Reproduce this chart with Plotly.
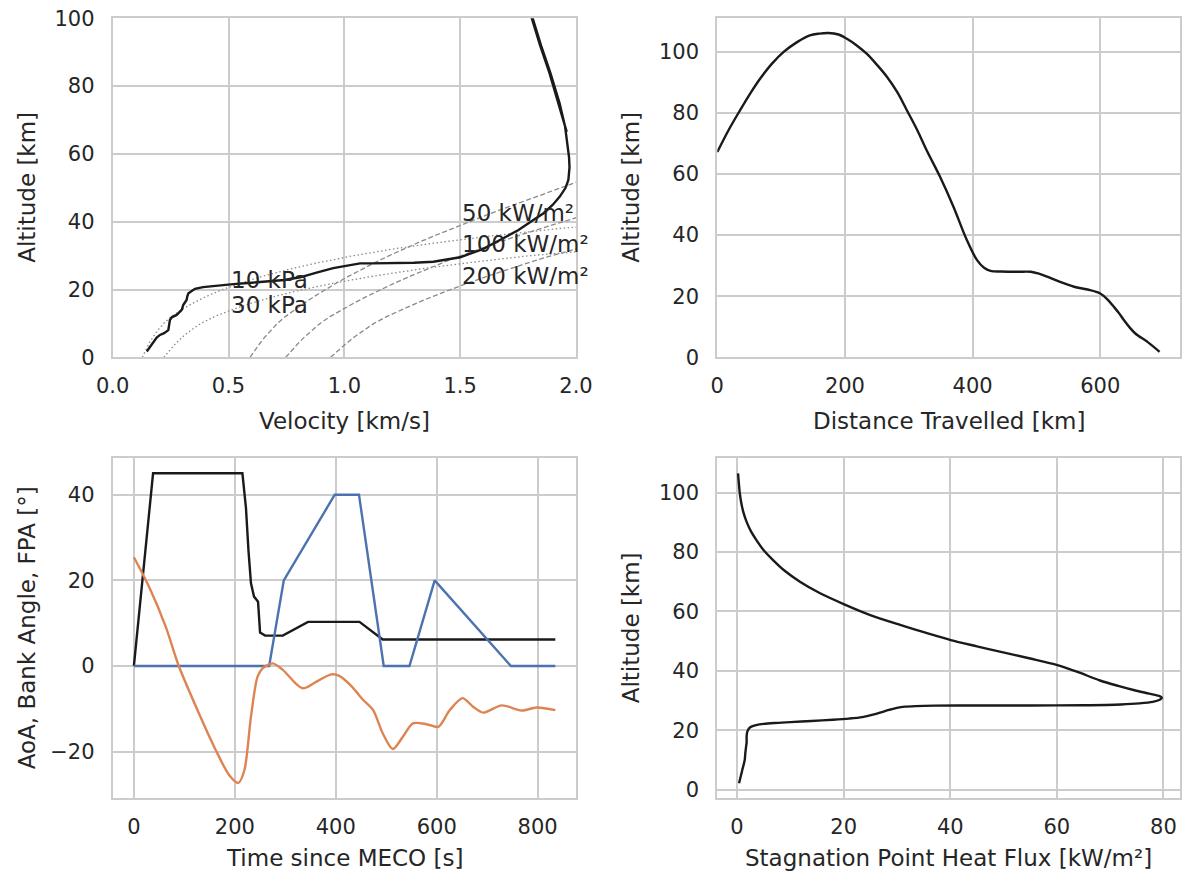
import plotly.graph_objects as go

# ---------------- data ----------------
# Top-left: trajectory velocity [km/s] vs altitude [km]
traj_vel = [1.960, 1.925, 1.885, 1.845, 1.810, 1.780,
            1.785, 1.813, 1.849, 1.889, 1.929, 1.953, 1.963, 1.970, 1.972, 1.967, 1.955,
            1.93, 1.90, 1.86, 1.816, 1.75, 1.672, 1.60, 1.50, 1.44, 1.384, 1.30, 1.20,
            1.12, 1.068, 1.00, 0.952, 0.88, 0.809, 0.74, 0.665, 0.60, 0.521, 0.45, 0.39,
            0.355, 0.327, 0.322, 0.319, 0.305, 0.298, 0.276, 0.255, 0.247, 0.243, 0.24,
            0.222, 0.204, 0.19, 0.183, 0.165, 0.147]
traj_alt = [66.5, 75, 84, 92, 100, 106.5,
            106.5, 100, 92, 84, 75, 68, 63, 59, 56, 52.3, 50,
            47.4, 45, 42.5, 40.5, 37.5, 34.6, 32, 29.5, 28.8, 28.2, 27.9, 27.7,
            27.7, 27.7, 27.0, 26.3, 25, 23.6, 22.8, 22.3, 22.0, 21.6, 21.2, 20.7,
            20.2, 18.9, 18.0, 16.9, 15.5, 14.0, 12.5, 11.8, 11.0, 9.5, 8.0,
            7.1, 6.6, 5.8, 5.1, 3.4, 1.7]

# Dynamic-pressure contours (altitude grid, velocity)
q_alt = [0, 2, 4, 6, 8, 10, 12, 14, 16, 18, 20, 22, 24, 26, 28, 30, 32, 34, 36, 38, 40, 42]
q10_vel = [0.128, 0.141, 0.156, 0.174, 0.195, 0.220, 0.253, 0.296, 0.347, 0.406, 0.474,
           0.557, 0.653, 0.764, 0.893, 1.042, 1.215, 1.422, 1.660, 1.930, 2.236, 2.58]
q30_vel = [0.221, 0.244, 0.271, 0.301, 0.338, 0.381, 0.439, 0.513, 0.600, 0.702, 0.821,
           0.964, 1.131, 1.323, 1.547, 1.805, 2.104, 2.46, 2.87, 3.34, 3.87, 4.47]

# Heat-flux contours (altitude grid, velocity)
h_alt = [0, 2, 4, 6, 8, 10, 12, 14, 16, 18, 20, 22, 24, 26, 28, 30, 32, 34, 36, 38, 40,
         42, 44, 46, 48, 50, 52, 54]
hf50_vel = [0.593, 0.613, 0.634, 0.657, 0.683, 0.711, 0.745, 0.785, 0.827, 0.871, 0.918,
            0.968, 1.021, 1.076, 1.134, 1.194, 1.256, 1.324, 1.394, 1.466, 1.540,
            1.615, 1.693, 1.773, 1.852, 1.931, 2.012, 2.096]
hf100_vel = [0.747, 0.772, 0.799, 0.828, 0.860, 0.895, 0.938, 0.989, 1.042, 1.098, 1.157,
             1.220, 1.287, 1.356, 1.428, 1.504, 1.583, 1.668, 1.756, 1.847, 1.940,
             2.035, 2.133, 2.234, 2.334, 2.433, 2.535, 2.641]
hf200_vel = [0.941, 0.973, 1.007, 1.043, 1.084, 1.128, 1.182, 1.246, 1.313, 1.383, 1.457,
             1.537, 1.621, 1.708, 1.800, 1.895, 1.994, 2.102, 2.213, 2.327, 2.444,
             2.564, 2.688, 2.814, 2.941, 3.065, 3.193, 3.328]

# Top-right: distance travelled [km] vs altitude [km]
dist_km = [0, 18, 36, 52, 67, 85, 104, 125, 145, 160, 174, 190, 203, 218, 234, 250, 266,
           282, 297, 313, 328, 349, 370, 391, 407, 418, 428, 445, 470, 491, 505, 517, 538,
           559, 580, 600, 612, 621, 630, 637, 646, 655, 675, 693]
dist_alt = [67.2, 74.5, 81, 86.5, 91.2, 96, 100, 103.2, 105.4, 106.0, 106.2, 105.7, 104.3,
            102.2, 99.4, 95.8, 91.8, 86.8, 80.9, 74.5, 67.8, 59.1, 49.3, 38.4, 31.8, 29.3,
            28.3, 28.1, 28.0, 28.0, 27.3, 26.4, 24.6, 23.1, 22.2, 20.9, 18.8, 16.6, 14.3,
            12.2, 9.8, 7.8, 4.9, 1.8]

# Bottom-left: angles vs time since MECO [s]
bank_t = [0, 38, 215, 222, 227, 232, 238, 246, 250, 260, 295, 345, 447, 493, 835]
bank_deg = [0, 45, 45, 37, 27, 19.3, 16.2, 15, 7.8, 7.1, 7.1, 10.3, 10.3, 6.2, 6.2]
aoa_t = [0, 268, 297, 398, 446, 495, 546, 596, 747, 835]
aoa_deg = [0, 0, 20, 40, 40, 0, 0, 20, 0, 0]
fpa_t = [0, 30, 63, 89, 129, 162, 189, 207, 219, 232, 245, 255, 275, 295, 334, 361, 391,
         407, 432, 454, 474, 493, 513, 533, 553, 580, 603, 626, 651, 672, 692, 729, 768,
         798, 835]
fpa_deg = [25.4, 18.5, 9.2, 0, -11.1, -19.6, -25.5, -27.3, -24.3, -11.8, -2.5, -0.55, 0.6,
           -0.9, -5.2, -3.7, -1.95, -2.3, -4.8, -7.9, -10.3, -15.7, -19.4, -16.5, -13.4,
           -13.6, -14.2, -10.3, -7.5, -9.5, -10.9, -9.2, -10.4, -9.7, -10.3]

# Bottom-right: stagnation point heat flux [kW/m²] vs altitude [km]
flux_q = [0.19, 0.35, 0.5, 0.8, 1.2, 1.76, 2.6, 3.64, 5.0, 6.76, 9.0, 11.8, 15.5, 20.0,
          25.0, 30.6, 35.5, 40.1, 45.0, 49.3, 55.0, 60.1, 64.0, 68.1, 71.5, 74.4, 77.3,
          79.2, 79.7, 79.3, 78.0, 75.5, 72.0, 65.0, 55.0, 45.0, 37.0, 33.5, 31.5, 30.0,
          28.5, 27.0, 25.5, 23.5, 21.0, 18.0, 14.0, 10.0, 7.0, 5.0, 3.6, 2.7, 2.2, 1.9,
          1.8, 1.8, 1.7, 1.55, 1.45, 1.2, 1.0, 0.7, 0.38]
flux_alt = [106.4, 103.0, 100.0, 96.5, 93.3, 90.3, 87.0, 84.0, 80.6, 77.3, 73.6, 70.0,
            66.2, 62.5, 58.8, 55.5, 52.8, 50.4, 48.3, 46.5, 44.2, 42.0, 39.6, 36.8, 35.0,
            33.6, 32.4, 31.6, 31.0, 30.3, 29.6, 29.1, 28.75, 28.5, 28.4, 28.4, 28.35,
            28.2, 28.0, 27.6, 26.9, 26.1, 25.3, 24.5, 24.0, 23.6, 23.2, 22.8, 22.5, 22.2,
            21.8, 21.3, 20.6, 19.4, 17.9, 16.0, 14.6, 12.3, 10.1, 8.2, 6.8, 4.6, 2.25]

# contour labels: (text, velocity, altitude)
contour_labels = [("10 kPa", 0.5, 22.8), ("30 kPa", 0.5, 15.4),
                  ("50 kW/m²", 1.5, 42.5), ("100 kW/m²", 1.5, 33.4),
                  ("200 kW/m²", 1.5, 24.1)]

# ---------------- figure ----------------
W, H = 1182, 874
TXT = "#262626"
GRID = "#cccccc"
FONT = "DejaVu Sans"
BLACK = "#1a1a1a"
GRAY = "#8a8a8a"

fig = go.Figure()

# top-left
fig.add_trace(go.Scatter(x=q10_vel, y=q_alt, mode="lines", xaxis="x", yaxis="y",
                         line=dict(color=GRAY, width=1.3, dash="1.5px,2.5px"),
                         showlegend=False))
fig.add_trace(go.Scatter(x=q30_vel, y=q_alt, mode="lines", xaxis="x", yaxis="y",
                         line=dict(color=GRAY, width=1.3, dash="1.5px,2.5px"),
                         showlegend=False))
for hv in (hf50_vel, hf100_vel, hf200_vel):
    fig.add_trace(go.Scatter(x=hv, y=h_alt, mode="lines", xaxis="x", yaxis="y",
                             line=dict(color=GRAY, width=1.3, dash="5px,2.5px"),
                             showlegend=False))
fig.add_trace(go.Scatter(x=traj_vel, y=traj_alt, mode="lines", xaxis="x", yaxis="y",
                         line=dict(color=BLACK, width=2.4), showlegend=False))

# top-right
fig.add_trace(go.Scatter(x=dist_km, y=dist_alt, mode="lines", xaxis="x2", yaxis="y2",
                         line=dict(color=BLACK, width=2.4, shape="spline", smoothing=1.0),
                         showlegend=False))

# bottom-left
fig.add_trace(go.Scatter(x=bank_t, y=bank_deg, mode="lines", xaxis="x3", yaxis="y3",
                         line=dict(color=BLACK, width=2.4), showlegend=False))
fig.add_trace(go.Scatter(x=aoa_t, y=aoa_deg, mode="lines", xaxis="x3", yaxis="y3",
                         line=dict(color="#4C72B0", width=2.4), showlegend=False))
fig.add_trace(go.Scatter(x=fpa_t, y=fpa_deg, mode="lines", xaxis="x3", yaxis="y3",
                         line=dict(color="#DD8452", width=2.4, shape="spline", smoothing=0.8),
                         showlegend=False))

# bottom-right
fig.add_trace(go.Scatter(x=flux_q, y=flux_alt, mode="lines", xaxis="x4", yaxis="y4",
                         line=dict(color=BLACK, width=2.4, shape="spline", smoothing=0.8),
                         showlegend=False))

def ax(domain, rng, anchor, **kw):
    d = dict(domain=domain, range=rng, anchor=anchor, showgrid=True, gridcolor=GRID,
             gridwidth=1.6, showline=True, linecolor=GRID, linewidth=2, mirror=True,
             ticks="", zeroline=False, automargin=False,
             tickfont=dict(family=FONT, size=21, color=TXT))
    d.update(kw)
    return d

xL = [112.7 / W, 576 / W]
xR = [717.3 / W, 1180 / W]
yT = [1 - 357.3 / H, 1 - 18.3 / H]
yB = [1 - 798.3 / H, 1 - 458.3 / H]

fig.update_layout(
    width=W, height=H, margin=dict(l=0, r=0, t=0, b=0),
    paper_bgcolor="white", plot_bgcolor="white",
    font=dict(family=FONT, color=TXT),
    xaxis=ax(xL, [0, 2.0], "y", tickvals=[0, 0.5, 1.0, 1.5, 2.0], tickformat=".1f",
             ticklabelstandoff=8),
    yaxis=ax(yT, [0, 100], "x", tickvals=[0, 20, 40, 60, 80, 100], ticklabelstandoff=12),
    xaxis2=ax(xR, [0, 725], "y2", tickvals=[0, 200, 400, 600], ticklabelstandoff=8),
    yaxis2=ax(yT, [0, 111], "x2", tickvals=[0, 20, 40, 60, 80, 100], ticklabelstandoff=12),
    xaxis3=ax(xL, [-42, 876], "y3", tickvals=[0, 200, 400, 600, 800], ticklabelstandoff=8),
    yaxis3=ax(yB, [-30.9, 48.5], "x3", tickvals=[-20, 0, 20, 40], ticklabelstandoff=12),
    xaxis4=ax(xR, [-3.7, 83.1], "y4", tickvals=[0, 20, 40, 60, 80], ticklabelstandoff=8),
    yaxis4=ax(yB, [-2.8, 111.5], "x4", tickvals=[0, 20, 40, 60, 80, 100], ticklabelstandoff=12),
)

ann = []
for txt, v, h in contour_labels:
    ann.append(dict(text=txt, x=v, y=h, xref="x", yref="y", xanchor="left",
                    yanchor="middle", showarrow=False,
                    font=dict(family=FONT, size=23, color=TXT)))

titles = [
    ("Velocity [km/s]", 344.3, 421, 0),
    ("Distance Travelled [km]", 948.7, 421, 0),
    ("Time since MECO [s]", 344.3, 858, 0),
    ("Stagnation Point Heat Flux [kW/m²]", 948.7, 858, 0),
    ("Altitude [km]", 27, 187.8, -90),
    ("Altitude [km]", 631, 187.8, -90),
    ("AoA, Bank Angle, FPA [°]", 27, 628.3, -90),
    ("Altitude [km]", 631, 628.3, -90),
]
for txt, px, py, ang in titles:
    ann.append(dict(text=txt, x=px / W, y=1 - py / H, xref="paper", yref="paper",
                    xanchor="center", yanchor="middle", textangle=ang, showarrow=False,
                    font=dict(family=FONT, size=23, color=TXT)))
fig.update_layout(annotations=ann)

fig.write_html("out.html")
